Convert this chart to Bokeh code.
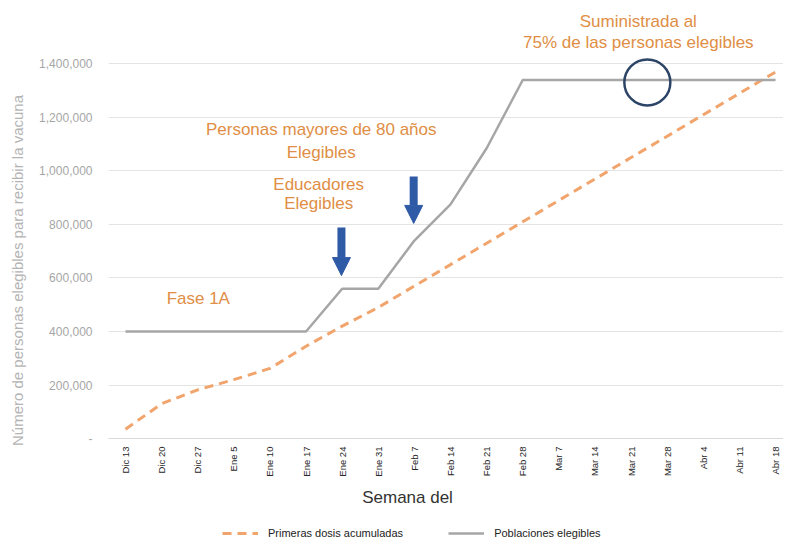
from math import pi
from bokeh.plotting import figure
from bokeh.models import (Range1d, FixedTicker, Label, Legend, Arrow, NormalHead)
from bokeh.embed import file_html
from bokeh.resources import INLINE

# ---- data ----
weeks = ["Dic 13", "Dic 20", "Dic 27", "Ene 5", "Ene 10", "Ene 17", "Ene 24", "Ene 31",
         "Feb 7", "Feb 14", "Feb 21", "Feb 28", "Mar 7", "Mar 14", "Mar 21", "Mar 28",
         "Abr 4", "Abr 11", "Abr 18"]
first_doses = [35000, 130000, 182000, 220000, 262000, 345000, 420000, 490000,
               570000, 650000, 730000, 810000, 890000, 970000, 1050000, 1130000,
               1210000, 1290000, 1370000]
eligible = [400000, 400000, 400000, 400000, 400000, 400000, 560000, 560000,
            740000, 875000, 1085000, 1340000, 1340000, 1340000, 1340000, 1340000,
            1340000, 1340000, 1340000]
y_ticks = [0, 200000, 400000, 600000, 800000, 1000000, 1200000, 1400000]
y_tick_labels = ["-", "200,000", "400,000", "600,000", "800,000", "1,000,000", "1,200,000", "1,400,000"]

# annotations (text, x index, y value, alignment)
notes = [
    ("Fase 1A", 1.14, 523000, "left"),
    ("Educadores", 5.35, 949000, "center"),
    ("Elegibles", 5.35, 878000, "center"),
    ("Personas mayores de 80 años", 5.42, 1155000, "center"),
    ("Elegibles", 5.42, 1069000, "center"),
    ("Suministrada al", 14.2, 1559000, "center"),
    ("75% de las personas elegibles", 14.2, 1481000, "center"),
]
arrows = [(5.98, 789000, 609000), (7.98, 979000, 804000)]
circle_x = [14.45]
circle_y = [1331000]
x_title_pos = (7.81, -220000)

x = list(range(len(weeks)))

FONT = "Liberation Sans"
ORANGE_TXT = "#e08e45"

p = figure(width=783, height=540, output_backend="svg", toolbar_location=None,
           x_range=Range1d(-0.47, 18.22), y_range=Range1d(-381000, 1637000),
           min_border_left=108, min_border_right=0, min_border_top=0, min_border_bottom=0)
p.outline_line_color = None
p.background_fill_color = "white"
p.border_fill_color = "white"

# grid
p.xgrid.visible = False
p.ygrid.ticker = FixedTicker(ticks=y_ticks)
p.ygrid.grid_line_color = "#e4e4e4"
p.ygrid.grid_line_width = 1

# y axis
p.yaxis.ticker = FixedTicker(ticks=y_ticks)
p.yaxis.major_label_overrides = {t: l for t, l in zip(y_ticks, y_tick_labels)}
p.yaxis.axis_line_color = None
p.yaxis.major_tick_line_color = None
p.yaxis.minor_tick_line_color = None
p.yaxis.major_tick_out = 0
p.yaxis.major_label_standoff = 16
p.yaxis.major_label_text_font = FONT
p.yaxis.major_label_text_font_size = "12px"
p.yaxis.major_label_text_color = "#a6a6a6"
p.yaxis.axis_label = "Número de personas elegibles para recibir la vacuna"
p.yaxis.axis_label_standoff = 10
p.yaxis.axis_label_text_font = FONT
p.yaxis.axis_label_text_font_size = "15px"
p.yaxis.axis_label_text_font_style = "normal"
p.yaxis.axis_label_text_color = "#b4b4b4"

# x axis (placed at y = 0 inside the frame)
p.xaxis.fixed_location = 0
p.xaxis.ticker = FixedTicker(ticks=x)
p.xaxis.major_label_overrides = {i: w for i, w in zip(x, weeks)}
p.xaxis.major_label_orientation = pi / 2
p.xaxis.axis_line_color = "#d9d9d9"
p.xaxis.major_tick_line_color = None
p.xaxis.minor_tick_line_color = None
p.xaxis.major_tick_out = 0
p.xaxis.major_label_standoff = 8
p.xaxis.major_label_text_font = FONT
p.xaxis.major_label_text_font_size = "9.5px"
p.xaxis.major_label_text_color = "#262626"

# series
r_dose = p.line(x, first_doses, line_color="#f1a46c", line_width=3, line_dash="9 6")
r_elig = p.line(x, eligible, line_color="#a6a6a6", line_width=2.5)

# circle highlight
p.scatter(circle_x, circle_y, marker="circle", size=46, fill_alpha=0,
          line_color="#2c4466", line_width=2.5)

# arrows
for ax, ys, ye in arrows:
    p.add_layout(Arrow(end=NormalHead(size=18, fill_color="#2f5aa6", line_color="#2f5aa6"),
                       x_start=ax, y_start=ys, x_end=ax, y_end=ye,
                       line_color="#2f5aa6", line_width=8))

# annotation texts
for txt, tx, ty, al in notes:
    p.add_layout(Label(x=tx, y=ty, text=txt, text_align=al, text_baseline="middle",
                       text_font=FONT, text_font_size="17px", text_color=ORANGE_TXT))

# x axis title
p.add_layout(Label(x=x_title_pos[0], y=x_title_pos[1], text="Semana del", text_align="center",
                   text_baseline="middle", text_font=FONT, text_font_size="17px",
                   text_color="#333333"))

# legend
legend = Legend(items=[("Primeras dosis acumuladas", [r_dose]), ("Poblaciones elegibles", [r_elig])],
                orientation="horizontal", location=(114, 0), padding=0, margin=0,
                spacing=45, glyph_width=36, glyph_height=14, label_height=14,
                label_standoff=10, label_text_font=FONT, label_text_font_size="11px",
                label_text_color="#222222", border_line_alpha=0, background_fill_alpha=0)
p.add_layout(legend, "center")

open("out.html", "w").write(file_html(p, INLINE))
